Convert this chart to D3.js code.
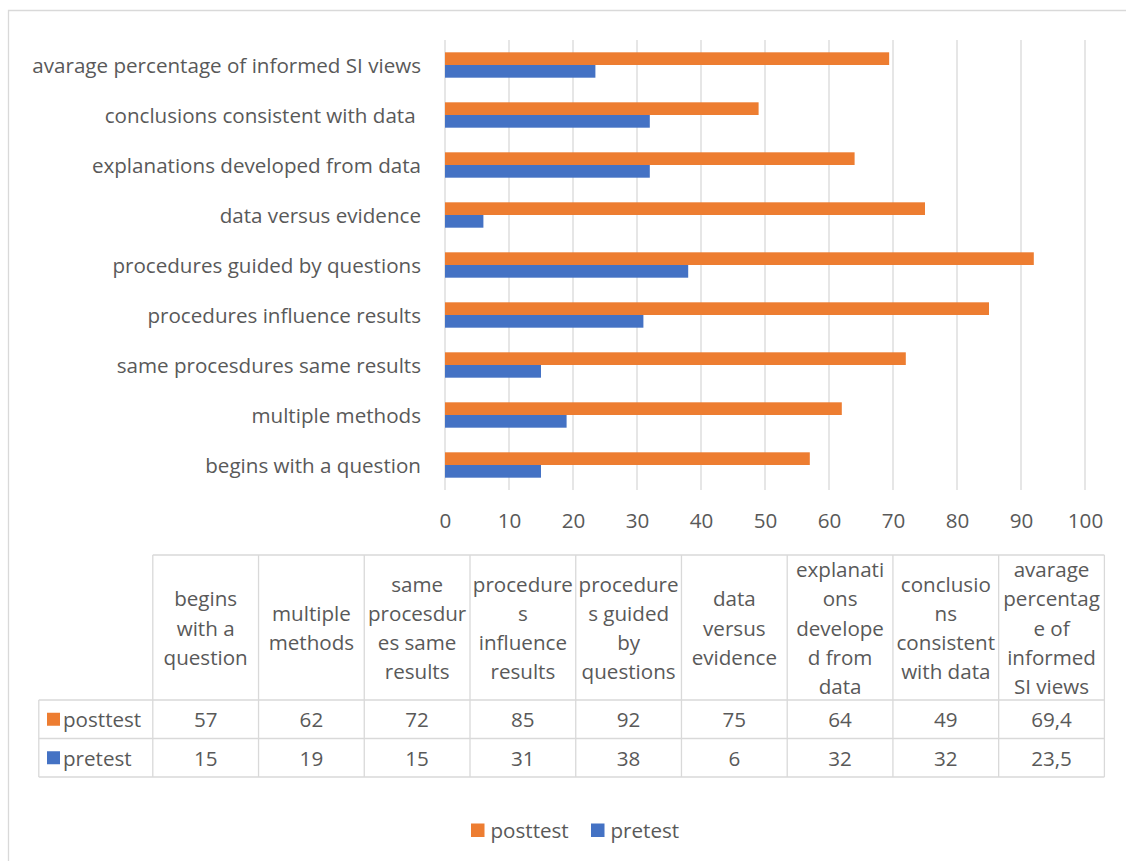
<!DOCTYPE html>
<html lang="en">

<head>
  <meta charset="utf-8">
  <title>Informed SI views</title>
  <script src="https://cdn.jsdelivr.net/npm/d3@7/dist/d3.min.js"></script>
  <style>
    body {
      margin: 0;
      background: #fff;
    }

    text {
      font-family: "Open Sans", sans-serif;
      fill: #595959;
      white-space: pre;
    }
  </style>
</head>

<body>
  <div id="chart"></div>
  <script>
    // data, bottom category first (as in the table)
    const categories = [
      'begins with a question',
      'multiple methods',
      'same procesdures same results',
      'procedures influence results',
      'procedures guided by questions',
      'data versus evidence',
      'explanations developed from data',
      'conclusions consistent with data ',
      'avarage percentage of informed SI views'
    ]
    // wrapped column headers of the data table
    const headerLines = [
      ['begins', 'with a', 'question'],
      ['multiple', 'methods'],
      ['same', 'procesdur', 'es same', 'results'],
      ['procedure', 's', 'influence', 'results'],
      ['procedure', 's guided', 'by', 'questions'],
      ['data', 'versus', 'evidence'],
      ['explanati', 'ons', 'develope', 'd from', 'data'],
      ['conclusio', 'ns', 'consistent', 'with data'],
      ['avarage', 'percentag', 'e of', 'informed', 'SI views']
    ]
    const posttest = [57, 62, 72, 85, 92, 75, 64, 49, 69.4]
    const pretest = [15, 19, 15, 31, 38, 6, 32, 32, 23.5]
    const seriesNames = ['posttest', 'pretest']
    const xTicks = [0, 10, 20, 30, 40, 50, 60, 70, 80, 90, 100]

    const colors = { posttest: '#ED7D31', pretest: '#4472C4' }
    const gridColor = '#d9d9d9'
    const fontSize = 20.6

    const series = [
      { name: 'posttest', values: posttest },
      { name: 'pretest', values: pretest }
    ]

    const width = 1126
    const height = 861

    const svg = d3.select('#chart')
      .append('svg')
      .attr('width', width)
      .attr('height', height)

    // outer chart frame (only top and left visible in the picture)
    svg.append('path')
      .attr('d', 'M8.5,' + height + 'V10.5H' + width)
      .attr('fill', 'none')
      .attr('stroke', gridColor)
      .attr('stroke-width', 1.3)

    // scales
    const x = d3.scaleLinear().domain([0, 100]).range([445, 1085])
    const y = d3.scaleBand()
      .domain(categories.slice().reverse())
      .range([40, 490])
      .padding(0)
    const ySub = d3.scaleBand()
      .domain(seriesNames)
      .range([0, y.bandwidth()])
      .paddingInner(0)
      .paddingOuter(0.97)

    // vertical gridlines
    svg.append('g')
      .selectAll('line')
      .data(xTicks)
      .enter()
      .append('line')
      .attr('x1', d => x(d))
      .attr('x2', d => x(d))
      .attr('y1', 40)
      .attr('y2', 490)
      .attr('stroke', gridColor)
      .attr('stroke-width', 1.3)

    // x axis labels
    const xAxis = d3.axisBottom(x).tickValues(xTicks).tickSize(0).tickPadding(0)
    const gx = svg.append('g')
      .attr('transform', 'translate(0, 490)')
      .call(xAxis)
    gx.select('.domain').remove()
    gx.selectAll('text')
      .attr('dy', null)
      .attr('y', 30)
      .attr('dominant-baseline', 'central')
      .style('font-size', fontSize + 'px')
      .style('font-family', '"Open Sans", sans-serif')
      .attr('fill', '#595959')

    // y axis (category labels)
    const yAxis = d3.axisLeft(y).tickSize(0).tickPadding(0)
    const gy = svg.append('g')
      .attr('transform', 'translate(421, 0)')
      .call(yAxis)
    gy.select('.domain').remove()
    gy.selectAll('text')
      .attr('dy', null)
      .attr('x', 0)
      .attr('dominant-baseline', 'central')
      .style('font-size', fontSize + 'px')
      .style('font-family', '"Open Sans", sans-serif')
      .attr('fill', '#595959')

    // bars
    svg.append('g')
      .selectAll('g')
      .data(series)
      .enter()
      .append('g')
      .attr('fill', d => colors[d.name])
      .selectAll('rect')
      .data(d => d.values.map((v, i) => ({ name: d.name, cat: categories[i], value: v })))
      .enter()
      .append('rect')
      .attr('x', x(0))
      .attr('y', d => y(d.cat) + ySub(d.name))
      .attr('width', d => x(d.value) - x(0))
      .attr('height', ySub.bandwidth())

    // data table
    const tableTop = 555
    const headerBottom = 700
    const rowHeight = 38.5
    const labelLeft = 38.8
    const col = d3.scaleBand()
      .domain(categories)
      .range([152.8, 1104.4])
    const rowY = d3.scaleBand()
      .domain(seriesNames)
      .range([headerBottom, headerBottom + rowHeight * 2])

    const table = svg.append('g')
    const lineStyle = sel => sel.attr('stroke', gridColor).attr('stroke-width', 1.3)

    // horizontal lines
    table.append('line')
      .attr('x1', col.range()[0]).attr('x2', col.range()[1])
      .attr('y1', tableTop).attr('y2', tableTop)
      .call(lineStyle)
    table.selectAll('.hline')
      .data([headerBottom].concat(seriesNames.map(s => rowY(s) + rowY.bandwidth())))
      .enter()
      .append('line')
      .attr('x1', labelLeft).attr('x2', col.range()[1])
      .attr('y1', d => d).attr('y2', d => d)
      .call(lineStyle)

    // vertical lines
    const colEdges = categories.map(c => col(c)).concat([col.range()[1]])
    table.selectAll('.vline')
      .data(colEdges)
      .enter()
      .append('line')
      .attr('x1', d => d).attr('x2', d => d)
      .attr('y1', tableTop).attr('y2', rowY.range()[1])
      .call(lineStyle)
    table.append('line')
      .attr('x1', labelLeft).attr('x2', labelLeft)
      .attr('y1', headerBottom).attr('y2', rowY.range()[1])
      .call(lineStyle)

    // header text
    const lineHeight = 29.3
    const headerMid = (tableTop + headerBottom) / 2
    table.selectAll('.head')
      .data(headerLines)
      .enter()
      .append('text')
      .attr('text-anchor', 'middle')
      .style('font-size', fontSize + 'px')
      .each(function (lines, i) {
        const cx = col(categories[i]) + col.bandwidth() / 2
        const y0 = headerMid - (lines.length - 1) * lineHeight / 2
        d3.select(this).selectAll('tspan')
          .data(lines)
          .enter()
          .append('tspan')
          .attr('x', cx)
          .attr('y', (d, j) => y0 + j * lineHeight)
          .attr('dominant-baseline', 'central')
          .text(d => d)
      })

    // row labels with legend keys
    const fmt = v => String(v).replace('.', ',')
    series.forEach(s => {
      const cy = rowY(s.name) + rowY.bandwidth() / 2
      table.append('rect')
        .attr('x', 47).attr('y', cy - 6.5)
        .attr('width', 13).attr('height', 13)
        .attr('fill', colors[s.name])
      table.append('text')
        .attr('x', 63).attr('y', cy)
        .attr('dominant-baseline', 'central')
        .style('font-size', fontSize + 'px')
        .text(s.name)
      table.selectAll('.val-' + s.name)
        .data(s.values)
        .enter()
        .append('text')
        .attr('x', (d, i) => col(categories[i]) + col.bandwidth() / 2)
        .attr('y', cy)
        .attr('text-anchor', 'middle')
        .attr('dominant-baseline', 'central')
        .style('font-size', fontSize + 'px')
        .text(d => fmt(d))
    })

    // legend
    const legend = svg.append('g').attr('transform', 'translate(471, 830)')
    const legendX = { posttest: 0, pretest: 120 }
    seriesNames.forEach(name => {
      const g = legend.append('g').attr('transform', 'translate(' + legendX[name] + ',0)')
      g.append('rect')
        .attr('x', 0).attr('y', -6.5)
        .attr('width', 13.5).attr('height', 13.5)
        .attr('fill', colors[name])
      g.append('text')
        .attr('x', 19.5).attr('y', 0)
        .attr('dominant-baseline', 'central')
        .style('font-size', fontSize + 'px')
        .text(name)
    })
  </script>
</body>

</html>
